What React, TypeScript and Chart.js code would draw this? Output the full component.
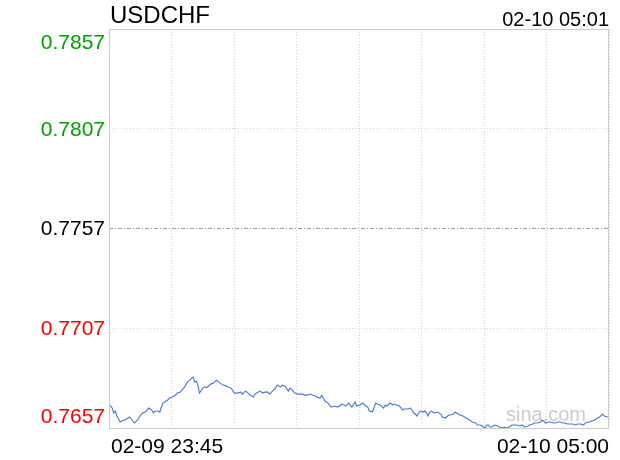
import React, { useEffect, useRef } from "react";
import { Chart, registerables } from "chart.js";

Chart.register(...registerables);

const title = "USDCHF";
const updateTime = "02-10 05:01";
const startLabel = "02-09 23:45";
const endLabel = "02-10 05:00";
const watermark = "sina.com";
const prevClose = 0.7757;

// minutes since 23:45
const minutes = [
  0, 2, 3, 4, 5, 7, 8, 10, 12, 13, 14, 16, 18, 20, 21, 23, 25, 26, 27, 28, 29, 30, 32, 33, 34, 36, 37, 38, 40,
  42, 43, 45, 47, 48, 49, 50, 51, 52, 53, 54, 55, 56, 57, 59, 60, 62, 64, 66, 67, 68, 69, 70, 72, 74, 75, 77,
  79, 81, 83, 84, 86, 87, 89, 91, 92, 93, 95, 97, 98, 100, 101, 103, 105, 106, 107, 108, 109, 111, 113, 114,
  115, 117, 119, 122, 123, 125, 127, 128, 130, 131, 133, 134, 136, 138, 139, 140, 142, 144, 146, 147, 149,
  151, 152, 153, 155, 156, 158, 160, 161, 163, 164, 166, 168, 169, 171, 173, 174, 175, 177, 179, 180, 181,
  183, 185, 186, 188, 190, 192, 193, 194, 196, 198, 199, 200, 201, 202, 203, 205, 207, 209, 210, 212, 214,
  215, 217, 218, 220, 221, 223, 224, 226, 227, 229, 231, 232, 234, 235, 237, 238, 239, 240, 241, 243, 245,
  246, 248, 249, 251, 253, 254, 256, 257, 259, 260, 262, 264, 265, 267, 268, 270, 272, 273, 275, 277, 278,
  280, 281, 283, 284, 286, 287, 289, 290, 292, 294, 295, 297, 299, 300, 302, 303, 304, 306, 308, 309, 311,
  312, 314, 315,
];

const rates = [
  0.7669, 0.7667, 0.76645, 0.76655, 0.7663, 0.766, 0.76605, 0.7661, 0.7662, 0.76625, 0.76615, 0.76595,
  0.7661, 0.76635, 0.76645, 0.7665, 0.7667, 0.76665, 0.7666, 0.76645, 0.76655, 0.76655, 0.7665, 0.76675,
  0.76695, 0.76705, 0.7671, 0.7672, 0.76725, 0.76735, 0.76745, 0.7675, 0.7677, 0.7678, 0.76795, 0.76805,
  0.7681, 0.7682, 0.76825, 0.768, 0.76805, 0.76785, 0.76745, 0.7677, 0.76775, 0.76775, 0.7679, 0.76795,
  0.76805, 0.7681, 0.768, 0.76795, 0.76785, 0.7678, 0.76775, 0.7677, 0.76745, 0.76745, 0.7675, 0.7674,
  0.76755, 0.7675, 0.76735, 0.76725, 0.7674, 0.76745, 0.76755, 0.76745, 0.7675, 0.7675, 0.7674, 0.76755,
  0.7677, 0.76785, 0.7678, 0.76775, 0.76785, 0.7678, 0.76755, 0.7677, 0.76765, 0.76745, 0.7674, 0.7674,
  0.76735, 0.76735, 0.7674, 0.76735, 0.7673, 0.76725, 0.7672, 0.76735, 0.76705, 0.76695, 0.76685, 0.76675,
  0.7668, 0.76675, 0.76685, 0.7669, 0.7668, 0.76695, 0.76685, 0.76675, 0.767, 0.7668, 0.76685, 0.76695,
  0.76685, 0.76675, 0.76655, 0.7665, 0.76695, 0.7669, 0.76685, 0.7667, 0.76685, 0.7668, 0.76695, 0.76685,
  0.7669, 0.76685, 0.7668, 0.7666, 0.76665, 0.76665, 0.7667, 0.76645, 0.7664, 0.7663, 0.76655, 0.7665,
  0.76655, 0.76645, 0.7663, 0.7665, 0.76655, 0.76645, 0.7665, 0.7664, 0.76625, 0.7662, 0.76635, 0.76635,
  0.7664, 0.7665, 0.7664, 0.76635, 0.7663, 0.76625, 0.76615, 0.7661, 0.766, 0.76595, 0.76585, 0.76585,
  0.7658, 0.7657, 0.76585, 0.76585, 0.76575, 0.76575, 0.76585, 0.7658, 0.76575, 0.7657, 0.76575, 0.7657,
  0.7658, 0.76585, 0.76585, 0.76585, 0.7658, 0.76585, 0.76575, 0.7658, 0.76585, 0.7659, 0.76595, 0.76595,
  0.766, 0.7661, 0.76595, 0.766, 0.766, 0.76595, 0.76595, 0.766, 0.766, 0.76595, 0.76595, 0.7659, 0.7659,
  0.7659, 0.76585, 0.7659, 0.7659, 0.76585, 0.76595, 0.766, 0.766, 0.76605, 0.7661, 0.7662, 0.76625,
  0.7664, 0.7663, 0.76625, 0.76625,
];

const xGridMinutes = [0, 39.375, 78.75, 118.125, 157.5, 196.875, 236.25, 275.625, 315];
const yTickValues = [0.7657, 0.7707, 0.7757, 0.7807, 0.7857];
const yTickLabels = ["0.7657", "0.7707", "0.7757", "0.7807", "0.7857"];
const yTickColors = ["#ff0000", "#ff0000", "#000000", "#00a000", "#00a000"];

const FONT = "'Liberation Sans', Arial, Helvetica, sans-serif";

const textPlugin = {
  id: "sinaText",
  beforeDatasetsDraw(chart: any) {
    const { ctx, chartArea } = chart;
    ctx.save();
    ctx.font = `20px ${FONT}`;
    ctx.fillStyle = "#cccccc";
    ctx.textAlign = "left";
    ctx.textBaseline = "alphabetic";
    ctx.fillText(watermark, chartArea.right - 103, chartArea.bottom - 7);
    ctx.restore();
  },
  afterDraw(chart: any) {
    const { ctx, chartArea, scales } = chart;
    const { left, right, top, bottom } = chartArea;
    ctx.save();
    // frame
    ctx.strokeStyle = "#cccccc";
    ctx.lineWidth = 1;
    ctx.setLineDash([]);
    ctx.strokeRect(left + 0.5, top + 0.5, right - left - 1, bottom - top);
    // title
    ctx.fillStyle = "#000";
    ctx.textBaseline = "alphabetic";
    ctx.font = `24px ${FONT}`;
    ctx.textAlign = "left";
    ctx.fillText(title, left + 1, top - 6);
    ctx.font = `20px ${FONT}`;
    ctx.textAlign = "right";
    ctx.fillText(updateTime, right, top - 3);
    // x labels
    ctx.font = `21px ${FONT}`;
    ctx.textAlign = "left";
    ctx.fillText(startLabel, left + 2, bottom + 25);
    ctx.textAlign = "right";
    ctx.fillText(endLabel, right, bottom + 25);
    // y labels
    ctx.textAlign = "right";
    ctx.textBaseline = "middle";
    yTickValues.forEach((v, i) => {
      let y = scales.y.getPixelForValue(v);
      y = Math.min(Math.max(y, top + 13), bottom - 12);
      ctx.fillStyle = yTickColors[i];
      ctx.fillText(yTickLabels[i], left - 4, y + 1);
    });
    ctx.restore();
  },
};

export default function App() {
  const ref = useRef<HTMLCanvasElement | null>(null);
  useEffect(() => {
    if (!ref.current) return;
    const chart = new Chart(ref.current, {
      type: "line",
      data: {
        datasets: [
          {
            data: minutes.map((m, i) => ({ x: m, y: rates[i] })),
            borderColor: "#4a77c9",
            borderWidth: 1.1,
            pointRadius: 0,
            tension: 0,
            fill: false,
          },
        ],
      },
      options: {
        animation: false,
        responsive: false,
        devicePixelRatio: 1,
        layout: { padding: { left: 109, top: 29, right: 11, bottom: 32 } },
        plugins: { legend: { display: false }, tooltip: { enabled: false }, title: { display: false } },
        scales: {
          x: {
            type: "linear",
            min: 0,
            max: 315,
            afterBuildTicks: (scale: any) => {
              scale.ticks = xGridMinutes.map((v) => ({ value: v }));
            },
            ticks: { display: false },
            grid: { color: "#d4d4d4", lineWidth: 1, drawTicks: false },
            border: { display: false, dash: [1, 2] },
          },
          y: {
            type: "linear",
            min: yTickValues[0],
            max: yTickValues[yTickValues.length - 1],
            afterBuildTicks: (scale: any) => {
              scale.ticks = yTickValues.map((v) => ({ value: v }));
            },
            ticks: { display: false },
            grid: {
              color: (c: any) => (c.tick && Math.abs(c.tick.value - prevClose) < 1e-6 ? "#9a9a9a" : "#d4d4d4"),
              lineWidth: 1,
              drawTicks: false,
            },
            border: {
              display: false,
              dash: (c: any) => (c.tick && Math.abs(c.tick.value - prevClose) < 1e-6 ? [4, 2, 1, 2] : [1, 2]),
            },
          },
        },
      },
      plugins: [textPlugin],
    } as any);
    return () => chart.destroy();
  }, []);
  return (
    <div style={{ position: "absolute", left: 0, top: 0, width: 620, height: 460, background: "#fff" }}>
      <canvas ref={ref} width={620} height={460} style={{ display: "block" }} />
    </div>
  );
}
